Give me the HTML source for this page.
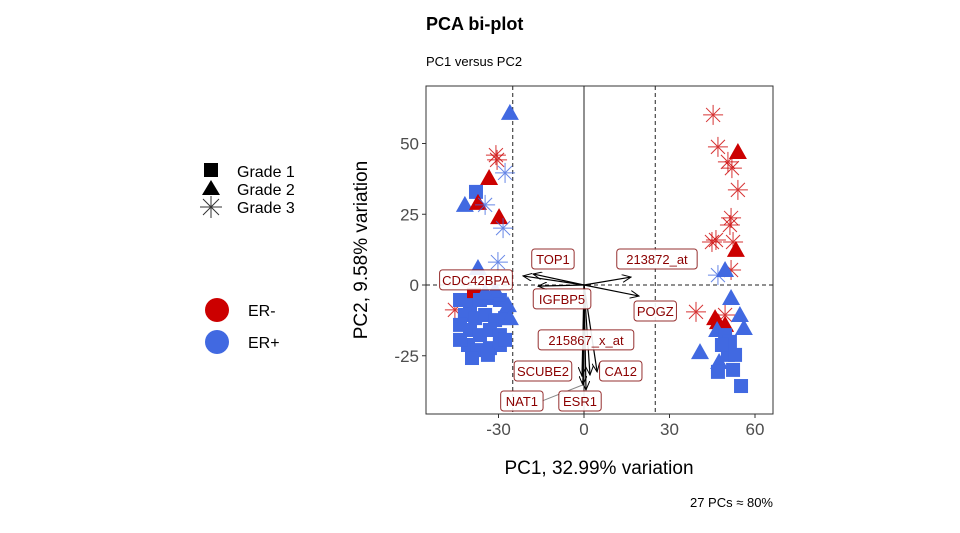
<!DOCTYPE html>
<html><head><meta charset="utf-8"><style>
body{margin:0;background:#fff;font-family:"Liberation Sans",sans-serif}
</style></head><body>
<svg id="c" width="960" height="528" xmlns="http://www.w3.org/2000/svg" font-family="Liberation Sans, sans-serif">
<text x="426" y="30" font-size="18" font-weight="bold">PCA bi-plot</text>
<text x="426" y="66" font-size="13">PC1 versus PC2</text>
<text x="773" y="507" font-size="13" text-anchor="end">27 PCs ≈ 80%</text>
<text x="599" y="474" font-size="19" text-anchor="middle">PC1, 32.99% variation</text>
<text transform="translate(367,250) rotate(-90)" font-size="19" text-anchor="middle">PC2, 9.58% variation</text>
<g id="legend">
<rect x="204" y="163" width="14" height="14" fill="#000"/>
<polygon points="211,180 220,195 202,195" fill="#000"/>
<g stroke="#333" stroke-width="1"><line x1="200" y1="207" x2="222" y2="207"/><line x1="211" y1="196" x2="211" y2="218"/><line x1="203" y1="199" x2="219" y2="215"/><line x1="219" y1="199" x2="203" y2="215"/></g>
<text x="237" y="177" font-size="16">Grade 1</text>
<text x="237" y="195" font-size="16">Grade 2</text>
<text x="237" y="213" font-size="16">Grade 3</text>
<circle cx="217" cy="310" r="12" fill="#CC0000"/>
<circle cx="217" cy="342" r="12" fill="#4169E1"/>
<text x="248" y="316" font-size="16">ER-</text>
<text x="248" y="348" font-size="16">ER+</text>
</g>
<g id="plot"></g>
</svg>
<script>
const px=[-26,-30.9,-30.5,-27.7,-33.3,-37.9,-41.8,-37.2,-34.7,-29.8,-28.4,-30.2,-37.2,-45.3,-38.6,
-43.5,-40,-36.5,-33,-29.5,-41.8,-38.2,-34.7,-31.2,-27.7,-43.5,-40,-36.5,-33,-29.5,-40.7,-37.2,-33,-29.5,-27.7,-39.3,-33.7,-43.5,
-30.2,-26.7,-26,-31.2,-34.7,
45.3,47,50.5,51.9,54,51.6,51.2,44.9,46.3,52.3,51.6,39.3,49.5,
54,53.3,46,47,49.5,47,
49.5,51.6,54.7,56.1,46.7,40.7,47.4,51.2,
49.5,51.2,50.5,52.3,47,55.1,48.4,53];
const py=[60.8,45.9,44.2,39.6,37.8,32.9,28.3,29,28.3,24,20.1,8.1,6,-8.8,-3.5,
-5.3,-7.1,-5.3,-4.6,-5.3,-10.6,-11.7,-10.6,-12.4,-11.7,-14.1,-15.9,-17.7,-15.9,-17.7,-21.2,-23,-22.3,-21.2,-19.4,-25.8,-24.7,-19.4,
-3.5,-7.1,-11.7,-1.8,-2.5,
60.1,48.8,43.5,41.3,33.6,23.7,21.2,15.2,15.9,15.2,5.3,-9.5,-10.6,
47,12.4,-11.7,-13.1,-14.1,3.5,
5.3,-4.6,-10.6,-15.2,-15.9,-23.7,-27.2,-23,
-17.7,-20.1,-24.7,-30,-30.7,-35.7,-21.2,-24.7];
const grade=[2,3,3,3,2,1,2,2,3,2,3,3,2,3,1,
1,1,1,1,1,1,1,1,1,1,1,1,1,1,1,1,1,1,1,1,1,1,1,
2,2,2,2,2,
3,3,3,3,3,3,3,3,3,3,3,3,3,
2,2,2,2,2,3,
2,2,2,2,2,2,2,2,
1,1,1,1,1,1,1,1];
const er=["+","-","-","+","-","+","+","-","+","-","+","+","+","-","-",
"+","+","+","+","+","+","+","+","+","+","+","+","+","+","+","+","+","+","+","+","+","+","+",
"+","+","+","+","+",
"-","-","-","-","-","-","-","-","-","-","-","-","-",
"-","-","-","-","-","+",
"+","+","+","+","+","+","+","+",
"+","+","+","+","+","+","+","+"];
const loadNames=["CDC42BPA","TOP1","IGFBP5","213872_at","POGZ","215867_x_at","SCUBE2","CA12","ESR1","NAT1"];
const loadX=[-21.4,-17.9,-16.1,16.5,19.3,2.1,-0.7,4.6,0.7,-0.4];
const loadY=[3.2,3.9,-0.4,2.8,-3.9,-31.8,-32.2,-30.7,-37.1,-35.3];
const labX=[-37.9,-10.9,-7.7,25.6,25,0.7,-14.4,12.9,-1.4,-21.8];
const labY=[1.8,9.2,-4.9,9.2,-9.2,-19.4,-30.4,-30.4,-41.0,-41.0];
const xTicks=[-30,0,30,60], yTicks=[-25,0,25,50];
const L=426,R=773,T=86,B=414;
const sx=v=>584+v*2.85, sy=v=>285-v*2.83;
const NS="http://www.w3.org/2000/svg";
const g=document.getElementById('plot');
function mk(t,a,p){const e=document.createElementNS(NS,t);for(const k in a)e.setAttribute(k,a[k]);(p||g).appendChild(e);return e;}
let e=mk('rect',{x:L,y:T,width:R-L,height:B-T,fill:'#fff',stroke:'#333','stroke-width':1});


xTicks.forEach(t=>{mk('line',{x1:sx(t),x2:sx(t),y1:B,y2:B+4,stroke:'#333'});
const tx=mk('text',{x:sx(t),y:B+21,'font-size':17,'text-anchor':'middle',fill:'#4d4d4d'});tx.textContent=t;

});
yTicks.forEach(t=>{mk('line',{x1:L-4,x2:L,y1:sy(t),y2:sy(t),stroke:'#333'});
const tx=mk('text',{x:L-7,y:sy(t)+6,'font-size':17,'text-anchor':'end',fill:'#4d4d4d'});tx.textContent=t;

});
mk('line',{x1:sx(0),x2:sx(0),y1:T,y2:B,stroke:'#222','stroke-width':1});
[-25,25].forEach(v=>mk('line',{x1:sx(v),x2:sx(v),y1:T,y2:B,stroke:'#222','stroke-dasharray':'4,3'}));
mk('line',{x1:L,x2:R,y1:sy(0),y2:sy(0),stroke:'#222','stroke-dasharray':'4,3'});
const col={"+":"#4169E1","-":"#CC0000"};
px.forEach((v,i)=>{const x=sx(v),y=sy(py[i]),c=col[er[i]];let m;
if(grade[i]==1)m=mk('rect',{x:x-7,y:y-7,width:14,height:14,fill:c});
else if(grade[i]==2)m=mk('polygon',{points:`${x},${y-9} ${x+9},${y+7} ${x-9},${y+7}`,fill:c});
else{m=mk('g',{stroke:c,'stroke-width':1,opacity:0.8});const r=10,d=7;
[[r,0],[0,r],[d,d],[d,-d]].forEach(([a,b])=>mk('line',{x1:x-a,y1:y-b,x2:x+a,y2:y+b},m));}

});
mk('defs',{}).innerHTML='<marker id="ah" markerWidth="10" markerHeight="8" refX="9" refY="4" orient="auto" markerUnits="userSpaceOnUse"><path d="M0,0 L9,4 L0,8" fill="none" stroke="#000" stroke-width="1"/></marker>';
loadNames.forEach((n,i)=>{const a=mk('line',{x1:sx(0),y1:sy(0),x2:sx(loadX[i]),y2:sy(loadY[i]),stroke:'#000','stroke-width':1.2,'marker-end':'url(#ah)'});

});
mk('line',{x1:sx(-21.8)+20,y1:sy(-41),x2:sx(-0.4),y2:sy(-35.3),stroke:'#888'});
loadNames.forEach((n,i)=>{const cx=sx(labX[i]),cy=sy(labY[i]);const w=n.length*7.6+12;
const lg=mk('g',{});


mk('rect',{x:cx-w/2,y:cy-10,width:w,height:20,rx:3,fill:'#fff',stroke:'#8B1A1A','stroke-width':1,opacity:0.9},lg);
const t=mk('text',{x:cx,y:cy+5,'font-size':13,'text-anchor':'middle',fill:'#8B0000'},lg);t.textContent=n;});
</script>
</body></html>
